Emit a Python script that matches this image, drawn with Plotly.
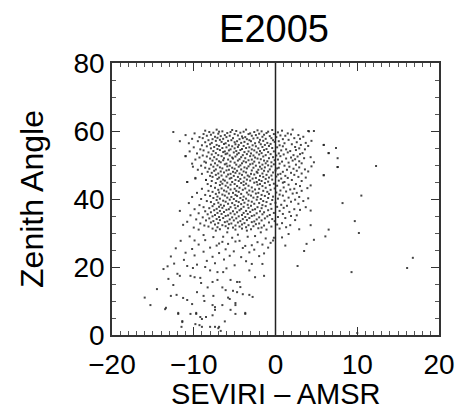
import plotly.graph_objects as go

# ---- data: (SEVIRI - AMSR difference, zenith angle) ----
core_pts = [
(-8.6,60.1),(-7.2,60.4),(-6.5,59.9),(-5.3,60.3),(-4.8,60.0),(-3.6,60.4),(-2.2,60.2),(-1.7,59.9),(-0.4,60.3),(0.8,60.1),(2.1,60.4),
(-9.9,59.3),(-8.1,59.7),(-7.6,59.5),(-6.9,59.8),(-5.9,59.4),(-5.5,59.7),(-4.3,59.5),(-3.9,59.8),(-3.1,59.3),(-2.6,59.7),(-1.1,59.4),(-0.9,59.8),(0.3,59.6),(1.5,59.3),(4.1,59.9),
(-11.0,58.8),(-8.8,59.1),(-7.9,58.9),(-7.0,59.2),(-6.2,58.8),(-5.0,59.1),(-4.6,58.7),(-3.3,59.1),(-2.4,58.8),(-2.0,59.2),(-1.4,58.9),(-0.2,59.1),(0.6,58.7),(1.9,59.0),(2.8,58.8),
(-9.3,58.2),(-8.4,58.6),(-7.4,58.3),(-6.7,58.5),(-6.0,58.2),(-5.6,58.6),(-4.1,58.4),(-3.7,58.2),(-2.9,58.6),(-1.6,58.3),(-0.7,58.5),(0.1,58.2),(1.2,58.6),(3.4,58.3),
(-10.2,57.7),(-8.9,57.9),(-7.7,57.6),(-7.1,58.0),(-6.4,57.7),(-5.2,57.9),(-4.4,57.6),(-4.0,57.9),(-3.5,57.6),(-2.7,57.8),(-2.2,58.0),(-1.2,57.7),(-0.5,57.9),(0.9,57.6),(2.3,57.9),(3.0,57.7),
(-9.5,57.0),(-8.2,57.3),(-7.3,57.1),(-6.8,57.4),(-5.8,57.1),(-5.4,57.3),(-4.7,57.0),(-3.2,57.3),(-3.0,57.0),(-1.9,57.4),(-1.5,57.1),(-0.3,57.3),(0.4,57.0),(1.6,57.4),(4.4,57.1),
(-10.6,56.4),(-8.6,56.7),(-7.8,56.5),(-6.6,56.8),(-6.1,56.4),(-5.0,56.7),(-4.2,56.5),(-3.8,56.8),(-2.5,56.4),(-2.0,56.7),(-1.0,56.5),(-0.1,56.8),(1.1,56.4),(2.6,56.7),(3.7,56.5),
(-9.0,55.8),(-8.0,56.1),(-7.2,55.9),(-6.3,56.2),(-5.7,55.8),(-4.9,56.1),(-4.5,55.9),(-3.4,56.2),(-2.8,55.8),(-1.8,56.1),(-1.3,55.9),(-0.6,56.2),(0.5,55.8),(2.0,56.1),(3.1,55.9),(5.9,55.9),
(-10.0,55.2),(-8.4,55.5),(-7.5,55.3),(-6.9,55.6),(-6.0,55.2),(-5.3,55.5),(-4.6,55.3),(-3.9,55.6),(-3.2,55.2),(-2.4,55.5),(-1.6,55.3),(-0.8,55.6),(0.2,55.2),(0.9,55.5),(2.4,55.3),(4.0,55.6),(7.4,55.0),
(-9.2,54.6),(-7.9,54.9),(-7.1,54.7),(-6.5,55.0),(-5.5,54.6),(-5.0,54.9),(-4.1,54.7),(-3.6,55.0),(-2.9,54.6),(-2.1,54.9),(-1.1,54.7),(-0.4,55.0),(1.3,54.6),(2.9,54.9),(3.6,54.6),
(-10.5,54.0),(-8.8,54.3),(-7.6,54.1),(-6.8,54.4),(-6.2,54.0),(-5.7,54.3),(-4.8,54.1),(-4.3,54.4),(-3.3,54.0),(-2.6,54.3),(-1.9,54.1),(-1.4,54.4),(-0.2,54.0),(0.7,54.3),(1.8,54.1),(2.5,54.4),
(-9.6,53.4),(-8.2,53.7),(-7.3,53.5),(-6.4,53.8),(-5.9,53.4),(-5.1,53.7),(-4.5,53.5),(-3.8,53.8),(-3.0,53.4),(-2.3,53.7),(-1.7,53.5),(-0.9,53.8),(0.4,53.4),(1.5,53.7),(3.3,53.5),(6.5,53.5),
(-8.9,52.8),(-7.8,53.1),(-7.0,52.9),(-6.1,53.2),(-5.6,52.8),(-4.7,53.1),(-4.0,52.9),(-3.5,53.2),(-2.7,52.8),(-2.0,53.1),(-1.2,52.9),(-0.6,53.2),(0.1,52.8),(1.0,53.1),(2.2,52.9),(3.0,53.2),
(-11.0,52.6),(-9.3,52.2),(-8.4,52.5),(-7.5,52.3),(-6.6,52.6),(-5.3,52.2),(-4.9,52.5),(-4.2,52.3),(-3.1,52.6),(-2.5,52.2),(-1.5,52.5),(-0.3,52.3),(0.6,52.6),(1.9,52.2),(2.7,52.5),(4.3,52.3),(7.6,52.0),
(-9.8,51.6),(-8.0,51.9),(-7.2,51.7),(-6.3,52.0),(-5.8,51.6),(-5.2,51.9),(-4.4,51.7),(-3.7,52.0),(-2.9,51.6),(-2.2,51.9),(-1.8,51.7),(-0.8,52.0),(0.3,51.6),(1.3,51.9),(2.4,51.7),(3.5,52.0),
(-8.7,51.0),(-7.7,51.3),(-6.9,51.1),(-6.4,51.4),(-5.5,51.0),(-4.6,51.3),(-3.9,51.1),(-3.3,51.4),(-2.6,51.0),(-1.4,51.3),(-1.0,51.1),(-0.1,51.4),(0.8,51.0),(2.1,51.3),(2.9,51.1),
(-10.2,50.4),(-8.5,50.7),(-7.4,50.5),(-6.7,50.8),(-6.0,50.4),(-5.0,50.7),(-4.1,50.5),(-3.6,50.8),(-2.8,50.4),(-2.0,50.7),(-1.2,50.5),(-0.5,50.8),(0.5,50.4),(1.6,50.7),(3.2,50.5),(4.7,50.8),
(-9.1,49.8),(-7.9,50.1),(-7.1,49.9),(-6.2,50.2),(-5.6,49.8),(-4.8,50.1),(-4.3,49.9),(-3.1,50.2),(-2.4,49.8),(-1.6,50.1),(-0.9,49.9),(-0.2,50.2),(1.1,49.8),(2.5,50.1),(12.3,49.7),
(-8.6,49.2),(-7.6,49.5),(-6.8,49.3),(-5.9,49.6),(-5.3,49.2),(-4.5,49.5),(-3.8,49.3),(-3.3,49.6),(-2.7,49.2),(-1.9,49.5),(-1.3,49.3),(-0.5,49.6),(0.4,49.2),(1.7,49.5),(2.9,49.3),(4.4,49.6),(7.6,49.4),
(-9.5,48.6),(-8.1,48.9),(-7.3,48.7),(-6.5,49.0),(-5.7,48.6),(-5.0,48.9),(-4.2,48.7),(-3.5,49.0),(-2.1,48.6),(-1.7,48.9),(-0.7,48.7),(0.2,49.0),(1.4,48.6),(2.2,48.9),(3.6,48.7),
(-8.3,48.0),(-7.5,48.3),(-6.7,48.1),(-6.0,48.4),(-5.2,48.0),(-4.7,48.3),(-3.9,48.1),(-2.9,48.4),(-2.3,48.0),(-1.4,48.3),(-0.9,48.1),(0.0,48.4),(0.9,48.0),(2.6,48.3),(4.0,48.1),
(-9.0,47.4),(-7.8,47.7),(-7.0,47.5),(-6.3,47.8),(-5.5,47.4),(-4.9,47.7),(-4.4,47.5),(-3.6,47.8),(-3.0,47.4),(-2.2,47.7),(-1.6,47.5),(-0.3,47.8),(0.6,47.4),(1.9,47.7),(3.2,47.5),(5.9,47.0),
(-8.0,46.8),(-7.3,47.1),(-6.6,46.9),(-5.8,47.2),(-5.1,46.8),(-4.1,47.1),(-3.4,46.9),(-2.6,47.2),(-1.9,46.8),(-1.1,47.1),(-0.5,46.9),(0.3,47.2),(1.2,46.8),(2.3,47.1),
(-9.8,46.2),(-7.7,46.5),(-6.9,46.3),(-6.0,46.6),(-5.4,46.2),(-4.6,46.5),(-3.8,46.3),(-3.2,46.6),(-2.4,46.2),(-1.5,46.5),(-0.8,46.3),(0.1,46.6),(1.5,46.2),(2.8,46.5),(3.7,46.3),
(-8.5,45.6),(-7.1,45.9),(-6.4,45.7),(-5.6,46.0),(-4.9,45.6),(-4.3,45.9),(-3.5,45.7),(-2.8,46.0),(-2.0,45.6),(-1.2,45.9),(-0.4,45.7),(0.7,46.0),(2.0,45.6),
(-10.8,45.0),(-7.8,45.3),(-6.7,45.1),(-6.2,45.4),(-5.3,45.0),(-4.5,45.3),(-3.9,45.1),(-3.1,45.4),(-2.3,45.0),(-1.7,45.3),(-0.9,45.1),(0.4,45.4),(1.1,45.0),(3.2,45.3),
(-8.3,44.4),(-7.3,44.7),(-6.5,44.5),(-5.9,44.8),(-5.0,44.4),(-4.2,44.7),(-3.6,44.5),(-2.6,44.8),(-1.9,44.4),(-1.3,44.7),(-0.2,44.5),(0.9,44.8),(2.5,44.4),(4.3,44.0),
(-7.9,43.8),(-6.8,44.1),(-6.1,43.9),(-5.5,44.2),(-4.7,43.8),(-3.9,44.1),(-3.3,43.9),(-2.2,44.2),(-1.6,43.8),(-0.7,44.1),(0.2,43.9),(1.6,44.2),(3.0,43.8),
(-12.5,59.7),(-11.7,57.0),(-11.0,52.6),(-10.1,49.5),(-10.8,45.0),(-9.8,46.0),(-8.5,45.6),
(5.9,55.9),(6.5,53.5),(7.6,49.4),(5.9,47.0),(4.7,60.0),(4.0,60.0),
]

mid_pts = [
(-9.0,43.0),(-7.4,43.3),(-6.6,43.1),(-5.8,43.4),(-5.0,43.0),(-4.4,43.3),(-3.7,43.1),(-2.9,43.4),(-2.0,43.0),(-1.2,43.3),(-0.1,43.1),(1.0,43.4),(2.3,43.0),(3.9,43.2),
(-8.2,42.4),(-7.0,42.7),(-6.3,42.5),(-5.5,42.8),(-4.8,42.4),(-4.0,42.7),(-3.2,42.5),(-2.5,42.8),(-1.5,42.4),(-0.6,42.7),(0.6,42.5),(1.8,42.8),(3.2,42.4),
(-9.6,41.8),(-7.7,42.1),(-6.9,41.9),(-6.0,42.2),(-5.2,41.8),(-4.5,42.1),(-3.5,41.9),(-2.8,42.2),(-2.1,41.8),(-1.0,42.1),(0.1,41.9),(1.3,42.2),(2.6,41.8),(10.5,41.0),
(-8.6,41.2),(-7.3,41.5),(-6.5,41.3),(-5.7,41.6),(-4.9,41.2),(-4.2,41.5),(-3.3,41.3),(-2.4,41.6),(-1.7,41.2),(-0.8,41.5),(0.5,41.3),(2.1,41.6),
(-10.2,40.6),(-8.0,40.9),(-7.1,40.7),(-6.2,41.0),(-5.4,40.6),(-4.7,40.9),(-3.9,40.7),(-3.0,41.0),(-2.2,40.6),(-1.3,40.9),(-0.3,40.7),(0.9,41.0),(2.9,40.6),(4.0,40.2),
(-9.1,40.0),(-7.6,40.3),(-6.8,40.1),(-5.9,40.4),(-5.1,40.0),(-4.3,40.3),(-3.6,40.1),(-2.7,40.4),(-1.8,40.0),(-0.9,40.3),(0.3,40.1),(1.6,40.4),
(-8.4,39.4),(-7.2,39.7),(-6.4,39.5),(-5.6,39.8),(-4.8,39.4),(-4.0,39.7),(-3.3,39.5),(-2.3,39.8),(-1.5,39.4),(-0.4,39.7),(1.1,39.5),(2.4,39.8),(3.4,39.4),
(-10.6,38.8),(-7.9,39.1),(-7.0,38.9),(-6.1,39.2),(-5.3,38.8),(-4.5,39.1),(-3.8,38.9),(-2.9,39.2),(-2.0,38.8),(-1.1,39.1),(0.0,38.9),(1.9,39.2),(8.2,38.8),
(-9.3,38.2),(-7.5,38.5),(-6.7,38.3),(-5.8,38.6),(-5.0,38.2),(-4.2,38.5),(-3.4,38.3),(-2.6,38.6),(-1.6,38.2),(-0.6,38.5),(0.7,38.3),(2.8,38.6),
(-8.8,37.6),(-7.7,37.9),(-6.9,37.7),(-6.3,38.0),(-5.5,37.6),(-4.6,37.9),(-3.9,37.7),(-3.0,38.0),(-2.2,37.6),(-1.2,37.9),(0.2,37.7),(1.4,38.0),(3.7,37.6),
(-9.9,37.0),(-8.1,37.3),(-7.2,37.1),(-6.5,37.4),(-5.7,37.0),(-4.9,37.3),(-4.2,37.1),(-3.3,37.4),(-2.5,37.0),(-1.7,37.3),(-0.5,37.1),(1.0,37.4),(2.3,37.0),
(-11.7,36.5),(-8.6,36.4),(-7.5,36.7),(-6.8,36.5),(-6.0,36.8),(-5.2,36.4),(-4.4,36.7),(-3.6,36.5),(-2.8,36.8),(-1.9,36.4),(-0.9,36.7),(0.5,36.5),(3.0,36.8),(4.3,36.6),
(-9.4,35.8),(-7.9,36.1),(-7.1,35.9),(-6.3,36.2),(-5.5,35.8),(-4.7,36.1),(-3.9,35.9),(-3.1,36.2),(-2.3,35.8),(-1.4,36.1),(-0.2,35.9),(1.7,36.2),
(-10.4,35.2),(-8.3,35.5),(-7.4,35.3),(-6.6,35.6),(-5.8,35.2),(-5.0,35.5),(-4.1,35.3),(-3.4,35.6),(-2.6,35.2),(-1.6,35.5),(-0.7,35.3),(0.9,35.6),(2.6,35.2),
(-8.9,34.6),(-7.7,34.9),(-6.9,34.7),(-6.1,35.0),(-5.3,34.6),(-4.5,34.9),(-3.7,34.7),(-2.9,35.0),(-2.0,34.6),(-1.0,34.9),(0.3,34.7),(1.9,35.0),
(-9.7,34.0),(-8.1,34.3),(-7.2,34.1),(-6.4,34.4),(-5.6,34.0),(-4.8,34.3),(-4.0,34.1),(-3.2,34.4),(-2.3,34.0),(-1.3,34.3),(-0.4,34.1),(1.2,34.4),(9.7,33.5),
(-10.8,33.3),(-8.5,33.7),(-7.6,33.5),(-6.8,33.8),(-5.9,33.4),(-5.1,33.7),(-4.3,33.5),(-3.5,33.8),(-2.6,33.4),(-1.7,33.7),(-0.1,33.5),(2.4,33.8),
(-9.2,32.8),(-7.9,33.1),(-7.0,32.9),(-6.2,33.2),(-5.4,32.8),(-4.6,33.1),(-3.8,32.9),(-2.9,33.2),(-2.0,32.8),(-0.8,33.1),(0.8,32.9),(4.3,32.3),
(-11.3,32.4),(-8.7,32.2),(-7.4,32.5),(-6.5,32.3),(-5.7,32.6),(-4.9,32.2),(-4.1,32.5),(-3.3,32.3),(-2.4,32.6),(-1.4,32.2),(0.2,32.5),(1.8,32.3),
(-10.0,31.6),(-8.2,31.9),(-7.1,31.7),(-6.1,32.0),(-5.2,31.6),(-4.4,31.9),(-3.6,31.7),(-2.7,32.0),(-1.7,31.6),(-0.5,31.9),(1.3,31.7),
(-9.4,31.0),(-7.7,31.3),(-6.8,31.1),(-5.8,31.4),(-4.9,31.0),(-4.1,31.3),(-3.0,31.1),(-2.1,31.4),(-1.1,31.0),(0.5,31.3),(2.9,31.1),(6.5,31.0),
(-8.8,29.4),(-6.4,28.9),(-4.6,29.5),(-2.5,29.1),(-0.2,28.6),(1.6,29.7),(-7.3,30.7),(-3.5,30.7),
(-9.9,27.8),(-6.9,26.9),(-4.9,27.5),(-2.9,26.4),(-0.6,27.1),(10.2,30.0),(6.1,29.0),(-5.9,30.2),(-1.8,30.2),
]

low_pts = [
(-10.5,29.0),(-7.6,28.8),(-5.3,28.6),(-3.4,28.9),(-1.2,28.4),(0.8,28.7),(4.7,28.0),
(-11.6,27.7),(-8.6,27.9),(-6.5,27.4),(-4.4,27.7),(-2.2,27.3),(-0.3,27.8),(3.8,26.8),
(-9.4,26.6),(-7.2,26.3),(-5.8,26.8),(-3.7,26.2),(-1.6,26.6),(1.2,26.3),
(-12.2,25.5),(-10.2,25.3),(-8.0,25.7),(-6.1,25.2),(-4.0,25.6),(-2.6,25.1),(-0.9,25.7),(3.5,24.7),
(-11.0,24.2),(-8.8,24.5),(-6.9,24.1),(-5.1,24.6),(-3.2,24.3),(-1.4,24.0),
(-12.8,23.1),(-9.9,23.4),(-7.7,23.0),(-5.6,23.3),(-4.2,22.9),(-2.0,23.2),
(-11.2,22.1),(-8.4,21.8),(-6.3,22.2),(-3.6,21.7),(16.8,22.7),
(-12.4,21.0),(-9.6,20.7),(-7.4,21.1),(-5.0,20.5),(-2.9,20.9),(-1.6,20.9),(2.7,20.3),(16.1,19.7),
(-13.2,20.2),(-10.8,20.3),(-8.6,20.0),
]

tail_pts = [
(-13.7,19.4),(-10.1,19.7),(-8.0,19.0),(-7.1,18.5),(-6.4,18.5),(9.3,18.5),(-11.7,17.4),(-10.4,17.4),(-9.9,17.0),(-9.2,16.8),
(-2.5,17.0),(-1.4,17.4),(-13.1,16.5),(-7.1,16.2),(-5.5,16.2),(-7.7,15.6),(-4.7,15.6),(-4.4,15.6),(-9.1,15.3),(-12.5,14.7),
(-8.3,14.0),(-6.5,14.0),(-4.3,14.1),(-6.1,13.2),(-5.2,13.0),(-9.6,12.6),(-4.7,12.6),(-4.0,12.0),(-3.2,11.8),(-12.8,11.5),
(-12.1,11.8),(-8.8,11.5),(-7.6,11.5),(-2.8,11.2),(-16.0,11.0),(-11.3,10.9),(-5.8,11.0),(-5.6,10.6),(-10.8,10.3),(-4.9,9.4),
(-10.2,9.1),(-7.7,8.8),(-6.5,8.8),(-4.9,8.8),(-7.4,8.2),(-13.4,8.0),(-13.5,7.6),(-7.4,7.4),(-5.5,7.4),(-11.9,6.5),
(-9.7,6.5),(-3.7,6.5),(-11.9,6.2),(-9.7,6.2),(-10.4,6.2),(-4.9,6.2),(-3.7,6.2),(-7.7,5.8),(-9.2,5.3),(-8.5,5.3),
(-9.0,4.7),(-11.4,4.1),(-11.4,3.8),(-9.8,3.2),(-9.3,2.9),(-11.5,2.4),(-9.0,2.4),(-8.0,2.4),(-7.4,2.4),(-6.9,2.4),
(-7.0,2.0),(-6.7,1.2),(10.0,0.6),(-15.3,8.8),(-14.5,13.5),(-12.0,18.0),(-6.0,19.6),(-3.2,19.0),(-8.7,10.0),(-6.2,4.0),
]

x_range = [-20, 20]
y_range = [0, 80]
x_ticks = [-20, -10, 0, 10, 20]
y_ticks = [0, 20, 40, 60, 80]
x_title = "SEVIRI – AMSR"
y_title = "Zenith Angle"
chart_title = "E2005"

all_pts = core_pts + mid_pts + low_pts + tail_pts
xs = [p[0] for p in all_pts]
ys = [p[1] for p in all_pts]

FONT = "Liberation Sans, Arial, Helvetica, sans-serif"

fig = go.Figure()
fig.add_trace(go.Scatter(
    x=xs, y=ys, mode="markers",
    marker=dict(symbol="square", size=2, color="#262626", opacity=0.85, line=dict(width=0)),
    showlegend=False, hoverinfo="skip",
))

fig.add_shape(type="line", xref="x", yref="y", x0=0, x1=0, y0=0, y1=80,
              line=dict(color="#222", width=1.5))

axis_common = dict(
    showgrid=False, zeroline=False, showline=True, linecolor="#333", linewidth=1.5,
    mirror="allticks", ticks="inside", ticklen=8, tickcolor="#333", tickwidth=1,
    tickfont=dict(family=FONT, size=28, color="black"), automargin=False,
)

fig.update_xaxes(range=x_range, tickvals=x_ticks, **axis_common, ticklabelstandoff=4,
                 minor=dict(dtick=1, ticklen=4, ticks="inside", tickcolor="#555"))
fig.update_yaxes(range=y_range, tickvals=y_ticks, **axis_common,
                 minor=dict(dtick=5, ticklen=4, ticks="inside", tickcolor="#555"),
                 title=dict(text=y_title, font=dict(family=FONT, size=32, color="black"), standoff=20))

# x-axis title placed as a paper annotation so it can sit near the bottom, as in the reference
fig.add_annotation(text=x_title, xref="paper", yref="paper", x=0.5, y=-0.217,
                   xanchor="center", yanchor="middle", showarrow=False, borderpad=0,
                   font=dict(family=FONT, size=29, color="black"))

fig.update_layout(
    width=459, height=412,
    margin=dict(l=112, r=20, t=63, b=77),
    paper_bgcolor="white", plot_bgcolor="white",
    title=dict(text=chart_title, x=0.597, xanchor="center", y=0.93, yanchor="middle",
               font=dict(family=FONT, size=38, color="black")),
)

fig.write_html("out.html")
